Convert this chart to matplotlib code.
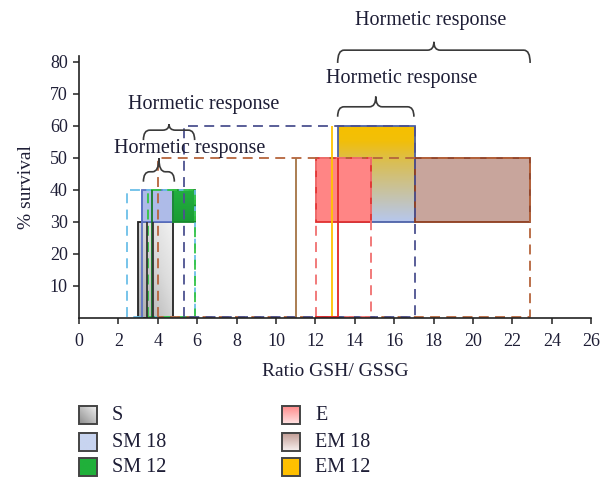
import numpy as np
import matplotlib
matplotlib.use("Agg")
import matplotlib.pyplot as plt
from matplotlib.patches import Rectangle, PathPatch
from matplotlib.path import Path
from matplotlib.colors import LinearSegmentedColormap

plt.rcParams['font.family'] = ['Liberation Serif', 'DejaVu Serif']
TXT = '#1e1e36'

# ---- data: GSH/GSSG ratio ranges (x) and % survival ranges (y) ----
# filled hormetic boxes
box_names = ['S', 'SM 18', 'SM 12', 'E', 'EM 18', 'EM 12']
box_x0 = [3.0, 3.2, 4.75, 12.05, 17.05, 13.13]
box_x1 = [4.75, 4.75, 5.9, 14.82, 22.9, 17.05]
box_y0 = [0, 30, 30, 30, 30, 30]
box_y1 = [30, 40, 40, 50, 50, 60]

# dashed full ranges
dash_x0 = [2.45, 3.5, 4.0, 5.33, 12.05]
dash_x1 = [5.9, 5.9, 22.9, 17.05, 14.82]
dash_y1 = [40, 40, 50, 60, 50]

# single-value reference lines
vline_x = [11.0, 12.86, 13.13, 3.7, 3.2, 3.45, 3.77]
vline_y1 = [50, 60, 50, 40, 40, 30, 30]

# hormetic-response braces: x range and vertical placement
brace_x0 = [3.27, 3.27, 13.13, 13.13]
brace_x1 = [4.84, 5.87, 17.0, 22.9]
brace_tip = [42.6, 55.6, 62.9, 79.7]
brace_bar = [45.7, 58.7, 66.0, 83.7]
brace_peak = [49.9, 60.6, 69.2, 86.3]
label_x = [5.63, 6.32, 16.38, 17.86]
label_y = [53.0, 66.6, 74.7, 93.0]

x_ticks = list(range(0, 27, 2))
y_ticks = list(range(10, 81, 10))

fig = plt.figure(figsize=(6.03, 4.80), dpi=100)
ax = fig.add_axes([79 / 603, 162 / 480, 512.2 / 603, 82 * 3.2 / 480])


def gradient_box(ax, x0, x1, y0, y1, colors, stops, direction='v', z=2):
    cmap = LinearSegmentedColormap.from_list('g', list(zip(stops, colors)))
    n = 128
    if direction == 'v':
        vals = np.linspace(0, 1, n)[:, None] * np.ones((1, 2))
    else:  # diagonal, light towards the upper right
        a = np.linspace(0, 1, n)
        vals = (a[:, None] + a[None, :]) / 2
    ax.imshow(vals, extent=[x0, x1, y0, y1], origin='lower', aspect='auto',
              cmap=cmap, vmin=0, vmax=1, zorder=z, interpolation='bilinear')


# EM 12 box: yellow fading to light blue at the bottom
gradient_box(ax, box_x0[5], box_x1[5], box_y0[5], box_y1[5],
             ['#b6c7ee', '#d9be56', '#f2bf08', '#f6c000'], [0, 0.62, 0.85, 1.0], z=2)
ax.add_patch(Rectangle((box_x0[5], box_y0[5]), box_x1[5] - box_x0[5], box_y1[5] - box_y0[5],
                       fill=False, ec='#4d62a8', lw=1.3, zorder=3))

# E box
ax.add_patch(Rectangle((box_x0[3], box_y0[3]), box_x1[3] - box_x0[3], box_y1[3] - box_y0[3],
                       fc='#ff8585', ec='#e03030', lw=1.3, zorder=3))
# EM 18 box
ax.add_patch(Rectangle((box_x0[4], box_y0[4]), box_x1[4] - box_x0[4], box_y1[4] - box_y0[4],
                       fc='#c8a59c', ec='#8e3c1e', lw=1.3, zorder=3))

# S box with grey gradient
gradient_box(ax, box_x0[0], box_x1[0], box_y0[0], box_y1[0],
             ['#a9a9a9', '#dcdcdc', '#f2f2f2'], [0, 0.6, 1.0], direction='d', z=2)
ax.add_patch(Rectangle((box_x0[0], box_y0[0]), box_x1[0] - box_x0[0], box_y1[0] - box_y0[0],
                       fill=False, ec='#222222', lw=1.3, zorder=3))
# SM 18 box
ax.add_patch(Rectangle((box_x0[1], box_y0[1]), box_x1[1] - box_x0[1], box_y1[1] - box_y0[1],
                       fc='#aebbe8', ec='#5c72c4', lw=1.3, zorder=3))
# SM 12 box
gradient_box(ax, box_x0[2], box_x1[2], box_y0[2], box_y1[2],
             ['#1a9c34', '#22b040'], [0, 1], z=2)
ax.add_patch(Rectangle((box_x0[2], box_y0[2]), box_x1[2] - box_x0[2], box_y1[2] - box_y0[2],
                       fill=False, ec='#178a2c', lw=1.3, zorder=3))

# dashed full ranges (bottom edge sits just above the axis line)
dash_colors = ['#6cbfe8', '#33c445', '#b5643c', '#4c5290', '#f07070']
base = 0.45
for x0, x1, y1, c in zip(dash_x0, dash_x1, dash_y1, dash_colors):
    ax.plot([x0, x0, x1, x1, x0], [base, y1, y1, base, base], color=c, lw=1.3,
            dashes=(5.5, 3.5), zorder=4, clip_on=False)

# solid reference lines
vline_colors = ['#a57444', '#ffc400', '#e02828', '#167a28', '#5c72c4', '#333333', '#333333']
for x, y1, c in zip(vline_x, vline_y1, vline_colors):
    ax.plot([x, x], [base, y1], color=c, lw=1.3, zorder=5, solid_capstyle='butt')
ax.plot([box_x0[3], vline_x[2]], [base, base], color='#e02828', lw=1.3, zorder=5)


def brace(ax, x0, x1, yt, yb, yp, rx=0.32):
    xm = (x0 + x1) / 2
    verts = [(x0, yt), (x0, yb), (x0 + rx, yb), (xm - rx, yb), (xm, yb), (xm, yp),
             (xm, yb), (xm + rx, yb), (x1 - rx, yb), (x1, yb), (x1, yt)]
    codes = [Path.MOVETO, Path.CURVE3, Path.CURVE3, Path.LINETO, Path.CURVE3, Path.CURVE3,
             Path.CURVE3, Path.CURVE3, Path.LINETO, Path.CURVE3, Path.CURVE3]
    ax.add_patch(PathPatch(Path(verts, codes), fill=False, ec='#3a3a3a', lw=1.2,
                           zorder=6, clip_on=False))


for i in range(len(brace_x0)):
    brace(ax, brace_x0[i], brace_x1[i], brace_tip[i], brace_bar[i], brace_peak[i])
    ax.text(label_x[i], label_y[i], 'Hormetic response', ha='center', va='center',
            fontsize=14.5, color=TXT, zorder=7)

ax.set_xlim(0, 26)
ax.set_ylim(0, 82)
ax.set_xticks(x_ticks)
ax.set_yticks(y_ticks)
ax.tick_params(direction='out', length=4, width=1.1, colors='#222222', labelsize=13,
               labelcolor=TXT)
ax.tick_params(axis='x', pad=7)
ax.tick_params(axis='y', pad=4)
for s in ['top', 'right']:
    ax.spines[s].set_visible(False)
for s in ['left', 'bottom']:
    ax.spines[s].set_linewidth(1.2)
    ax.spines[s].set_color('#222222')
    ax.spines[s].set_zorder(8)
ax.set_xlabel('Ratio GSH/ GSSG', fontsize=14, color=TXT, labelpad=9)
ax.set_ylabel('% survival', fontsize=14, color=TXT, labelpad=11)

# ---- legend drawn in figure pixel space ----
lax = fig.add_axes([0, 0, 1, 1], zorder=-1)
lax.set_xlim(0, 603)
lax.set_ylim(480, 0)
lax.axis('off')

legend_labels = ['S', 'SM 18', 'SM 12', 'E', 'EM 18', 'EM 12']
legend_fill = [(['#8c8c8c', '#f0f0f0'], 'd'), (['#c8d4f0', '#c8d4f0'], 'v'),
               (['#20b03a', '#20b03a'], 'v'), (['#ffe4e4', '#ff8a8a'], 'v'),
               (['#f4ecea', '#c09890'], 'v'), (['#ffc000', '#ffc000'], 'v')]
col_x = [79, 282]
row_y = [415, 441.5, 467]
sq = 18
for k, lab in enumerate(legend_labels):
    cx = col_x[k // 3]
    cy = row_y[k % 3]
    cols, d = legend_fill[k]
    n = 64
    if d == 'd':
        a = np.linspace(0, 1, n)
        vals = (a[:, None] + a[None, :]) / 2
    else:
        vals = np.linspace(0, 1, n)[:, None] * np.ones((1, 2))
    cm = LinearSegmentedColormap.from_list('l', cols)
    lax.imshow(vals, extent=[cx, cx + sq, cy + sq / 2, cy - sq / 2], origin='lower',
               aspect='auto', cmap=cm, vmin=0, vmax=1, zorder=1)
    lax.add_patch(Rectangle((cx, cy - sq / 2), sq, sq, fill=False, ec='#444444',
                            lw=1.4, zorder=2))
    lax.text(cx + 33, cy + 1, lab, ha='left', va='center', fontsize=14.5, color=TXT)
lax.set_xlim(0, 603)
lax.set_ylim(480, 0)

fig.savefig('out.png', dpi=100)
